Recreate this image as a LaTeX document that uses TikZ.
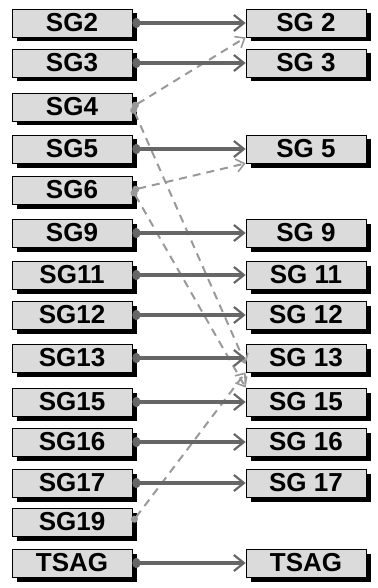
\documentclass[tikz,border=0pt]{standalone}
\usepackage{fontspec}
\setmainfont{Liberation Sans}
\usetikzlibrary{arrows.meta,shadows,calc}
\begin{document}
\begin{tikzpicture}[x=1pt,y=-1pt,
  sgbox/.style={draw=black,line width=0.7pt,fill=black!14,minimum width=120pt,minimum height=28pt,inner sep=0pt,
    font=\fontsize{26}{26}\selectfont\bfseries,
    drop shadow={shadow xshift=4.5pt,shadow yshift=-4.5pt,fill=black,opacity=1}},
  harr/.style={draw=black!60,line width=3.6pt,{Circle[length=8pt,width=10pt]}-{Straight Barb[length=10pt,width=16pt,line width=2.2pt]}},
  darr/.style={draw=black!40,line width=2pt,dash pattern=on 8pt off 6pt,{Circle[length=7pt]}-{Straight Barb[length=8pt,width=13pt,line width=1.6pt]}}
]
\useasboundingbox (0,0) rectangle (377,588);
\foreach \n/\y in {2/23,3/63,4/107,5/149,6/190,9/233,11/275,12/315,13/358,15/402,16/442,17/483,19/522}{
  \node[sgbox] (L\n) at (72,\y) {SG\n};
}
\node[sgbox] (LT) at (72,563) {TSAG};
\foreach \n/\y in {2/23,3/63,5/149,9/233,11/275,12/315,13/358,15/402,16/442,17/483}{
  \node[sgbox] (R\n) at (306,\y) {SG \n};
}
\node[sgbox] (RT) at (306,563) {TSAG};
% dashed connectors
\draw[darr] (L4.east) -- (R2.south west);
\draw[darr] (L4.east) -- ([yshift=-6pt]R13.west);
\draw[darr] (L6.east) -- (R5.south west);
\draw[darr] (L6.east) -- (R15.north west);
\draw[darr] (L19.east) -- (R13.south west);
% solid connectors
\foreach \n in {2,3,5,9,11,12,13,15,16,17,T}{
  \draw[harr] (L\n.east) -- (R\n.west);
}
\end{tikzpicture}
\end{document}
